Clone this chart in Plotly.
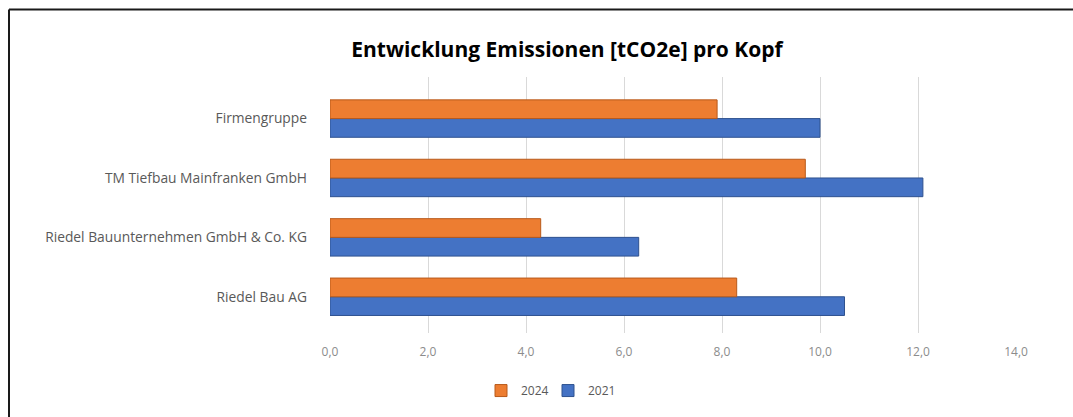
import plotly.graph_objects as go

categories = ["Riedel Bau AG", "Riedel Bauunternehmen GmbH & Co. KG",
              "TM Tiefbau Mainfranken GmbH", "Firmengruppe"]
values_2024 = [8.3, 4.3, 9.7, 7.9]
values_2021 = [10.5, 6.3, 12.1, 10.0]
x_ticks = [0, 2, 4, 6, 8, 10, 12, 14]

W, H = 1073, 417
L, R, T, B = 330, 57, 77, 82
pw, ph = W - L - R, H - T - B

def px_x(p):
    return (p - L) / pw

def px_y(p):
    return (H - B - p) / ph

fig = go.Figure()
fig.add_trace(go.Bar(
    y=categories, x=values_2021, orientation="h", name="2021",
    marker=dict(color="#4472C4", line=dict(color="#2F528F", width=1)),
))
fig.add_trace(go.Bar(
    y=categories, x=values_2024, orientation="h", name="2024",
    marker=dict(color="#ED7D31", line=dict(color="#B85A1B", width=1)),
))

fig.update_layout(
    width=W, height=H,
    margin=dict(l=L, r=R, t=T, b=B),
    paper_bgcolor="white", plot_bgcolor="white",
    barmode="group", bargap=0.37, bargroupgap=0,
    separators=",.",
    font=dict(family="Open Sans, sans-serif", color="#595959"),
    title=dict(text="<b>Entwicklung Emissionen [tCO2e] pro Kopf</b>",
               x=567 / W, xanchor="center", xref="container",
               y=1 - 50 / H, yanchor="middle", yref="container",
               font=dict(size=21, color="#000000", family="Open Sans, sans-serif")),
    xaxis=dict(range=[0, 14], tickvals=x_ticks, tickformat=".1f",
               showgrid=True, gridcolor="#D9D9D9", gridwidth=1,
               zeroline=False, showline=False, ticks="",
               ticklabelstandoff=10,
               tickfont=dict(size=12, color="#8C8C8C")),
    yaxis=dict(type="category", categoryorder="array", categoryarray=categories,
               range=[-0.61, 3.70], showgrid=False, zeroline=False,
               showline=False, ticks="", ticklabelstandoff=22,
               tickfont=dict(size=13.8, color="#595959")),
    legend=dict(orientation="h", traceorder="reversed",
                x=px_x(548), xanchor="center", y=px_y(393), yanchor="middle",
                font=dict(size=12, color="#595959"),
                itemwidth=30, entrywidth=22, entrywidthmode="pixels"),
    shapes=[
        dict(type="line", xref="paper", yref="paper",
             x0=px_x(9), x1=px_x(W + 5), y0=px_y(9), y1=px_y(9),
             line=dict(color="#1A1A1A", width=2)),
        dict(type="line", xref="paper", yref="paper",
             x0=px_x(9), x1=px_x(9), y0=px_y(9), y1=px_y(H + 5),
             line=dict(color="#1A1A1A", width=2)),
    ],
)

fig.write_html("out.html")
